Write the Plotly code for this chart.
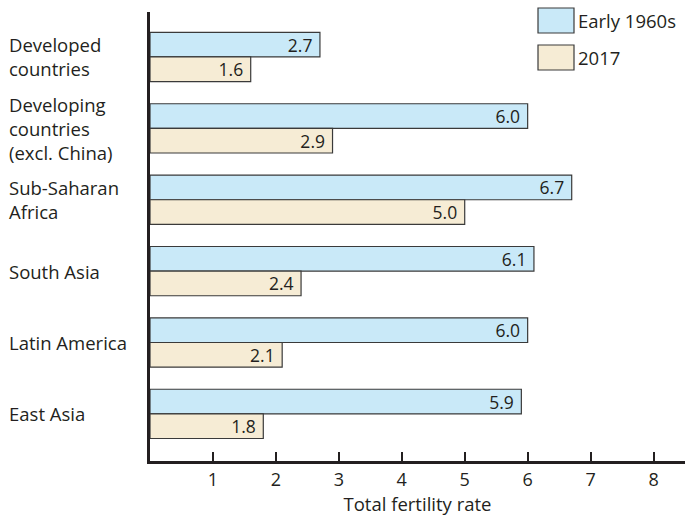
import plotly.graph_objects as go

categories = ["Developed<br>countries", "Developing<br>countries<br>(excl. China)",
              "Sub-Saharan<br>Africa", "South Asia", "Latin America", "East Asia"]
early_1960s = [2.7, 6.0, 6.7, 6.1, 6.0, 5.9]
y2017 = [1.6, 2.9, 5.0, 2.4, 2.1, 1.8]
series_names = ["Early 1960s", "2017"]
x_ticks = [1, 2, 3, 4, 5, 6, 7, 8]

BLUE = "#c9e9f8"
BEIGE = "#f6ecd5"
EDGE = "#3a3a3a"
INK = "#231f20"
FONT = "Open Sans"

W, H = 685, 520
ML, MR, MT, MB = 150, 0, 12, 59

fig = go.Figure()
for name, vals, col in [(series_names[0], early_1960s, BLUE), (series_names[1], y2017, BEIGE)]:
    fig.add_trace(go.Bar(
        y=list(range(len(categories))), x=vals, orientation="h", name=name,
        marker=dict(color=col, line=dict(color=EDGE, width=1.2)),
        text=[f"{v:.1f}\u00a0" for v in vals], textposition="inside",
        insidetextanchor="end", constraintext="none", textangle=0,
        insidetextfont=dict(family=FONT, size=17.5, color=INK),
        showlegend=False, hoverinfo="skip",
    ))

pw = W - ML - MR
ph = H - MT - MB
def px(x):
    return (x - ML) / pw
def py(y):
    return (H - MB - y) / ph

# category labels, left-aligned in the margin
for i, c in enumerate(categories):
    fig.add_annotation(x=px(7), xref="paper", y=i, yref="y",
                       text=c, showarrow=False, xanchor="left", align="left",
                       font=dict(family=FONT, size=18.5, color=INK))

# legend boxes
for k, (name, col) in enumerate([(series_names[0], BLUE), (series_names[1], BEIGE)]):
    top = 8 + k * 37
    fig.add_shape(type="rect", xref="paper", yref="paper",
                  x0=px(538), x1=px(574), y0=py(top + 25), y1=py(top),
                  fillcolor=col, line=dict(color=EDGE, width=1.2))
    fig.add_annotation(x=px(576), y=py(top + 12.5), xref="paper", yref="paper",
                       text=name, showarrow=False, xanchor="left", yanchor="middle",
                       font=dict(family=FONT, size=18.5, color=INK))

fig.update_layout(
    width=W, height=H, margin=dict(l=ML, r=MR, t=MT, b=MB),
    paper_bgcolor="white", plot_bgcolor="white",
    barmode="group", bargap=0.31, bargroupgap=0,
    font=dict(family=FONT, color=INK),
    showlegend=False,
)
fig.update_xaxes(range=[0, 8.5], tickvals=x_ticks, ticks="inside", ticklen=9, tickwidth=1.5,
                 tickcolor=INK, showgrid=False, zeroline=False,
                 showline=True, linecolor=INK, linewidth=3,
                 tickfont=dict(family=FONT, size=18, color=INK),
                 title=dict(text="Total fertility rate", font=dict(family=FONT, size=18.5, color=INK),
                            standoff=6))
fig.update_yaxes(range=[5.66, -0.63], showticklabels=False, ticks="", showgrid=False,
                 zeroline=False, showline=True, linecolor=INK, linewidth=3)

fig.write_html("out.html")
